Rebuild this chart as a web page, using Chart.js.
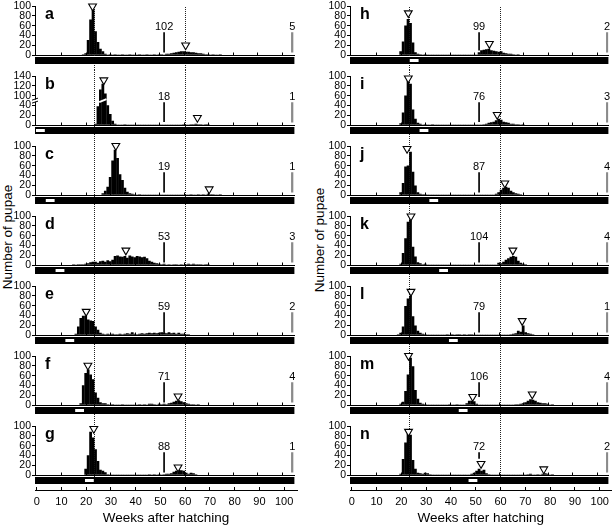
<!DOCTYPE html>
<html>
<head>
<meta charset="utf-8">
<script src="https://cdn.jsdelivr.net/npm/chart.js@4.4.0/dist/chart.umd.min.js"></script>
<style>
body{margin:0;background:#fff}
#fig{position:relative;width:614px;height:527px;overflow:hidden;background:#fff}
canvas{position:absolute}
.ylab{position:absolute;font:13.5px "Liberation Sans",Arial,sans-serif;white-space:nowrap;transform:translate(-50%,-50%) rotate(-90deg)}
</style>
</head>
<body>
<div id="fig">
  <div class="ylab" style="left:7px;top:237px">Number of pupae</div>
  <div class="ylab" style="left:319px;top:240px">Number of pupae</div>
</div>
<script>
// panels a-g on the left, h-n on the right
var letters = ['a','b','c','d','e','f','g','h','i','j','k','l','m','n'];
// first week of each counts array
var firstWeek = [19, 24, 27, 15, 16, 18, 20, 20, 20, 20, 20, 19, 20, 20];

// pupae per week
var countsA = [1,3,30,72,92,48,26,12,7,2, 0,1,0,1,0,0,1,0,0,1, 0,0,0,1,0,0,1,0,0,1, 0,1,1,0,2,2,3,4,5,6, 7,7,6,6,5,5,4,3,3,2, 1,1,0,1,0,0,1];
var countsB = [2,38,112,124,104,40,22,8,2, 0,0,0,1,0,0,0,0,0,0, 0,0,0,0,0,0,0,0,0,0, 0,0,0,0,0,0,0, 1,0,0,1,1,2,1,1,0,1,1];
var countsC = [3,8,16,36,70,92,75,42,30,14,6,3,2,1,0,1, 0,0,0,0,0,0,0,0,0,0,0,0,0,0,0,0,0,0,0,0, 1,0,0,1,0,1,0,2,1,1,0,0,1];
var countsD = [1,0,1,1,1,2,3,5,6,6, 4,7,8,6,9,7,10,18,19,17, 16,18,14,19,17,15,18,17,15,16, 13,8,6,4,3,2,1,2, 0,1,0,1,1,0,1,0,1,2,1,2,1,1,1,0,1,1];
var countsE = [2,17,34,39,39,31,29,28,17,10, 4,2,1,2,1,2,1,1,2,1, 2,3,2,5,2,1,2,3,2,3, 4,3,4,3,4,5,4,3,5,3, 4,2,4,2,2,1,1];
var countsF = [3,40,65,72,62,52,25,14,5,3, 3,1,0,1,0,0,0,1,0,0, 0,0,0,0,1,0,1,0,2,2, 1,0,2,1,2,1,3,4,6,8, 9,7,5,3,2,1,1,0,1];
var countsG = [12,40,88,76,52,28,10,8,5,1, 0,0,0,0,0,0,0,0,0,0, 0,0,0,0,0,0,1,0,1,0, 1,0,1,2,2,3,6,8,10,9, 8,4,2,4,3,1];
var countsH = [7,27,60,73,65,25,5,2,1,0, 1,0,0,0,0,0,0,0,0,0, 0,0,0,0,0,0,0,0,0,0, 0,0,5,9,10,11,12,9,8,7, 6,7,4,3,2,2,1,0,1];
var countsI = [3,25,60,92,84,31,12,4,2,0, 1,0,0,1,0,0,0,0,0,0, 0,0,0,0,0,0,0,0,0,0, 0,0,0,0,1,2,4,5,6,9, 12,10,6,5,4,2,2,1,1,0,1];
var countsJ = [5,24,58,60,88,47,19,5,2,1, 1,0,0,0,0,0,0,0,0,0, 0,0,0,0,0,0,0,0,0,0, 0,0,0,0,0,0,0,0,0,2, 5,10,14,16,14,8,5,3,2,1];
var countsK = [2,24,54,88,93,37,17,5,3,1, 2,0,0,0,0,0,0,0,0,0, 0,0,0,0,0,0,0,0,0,0, 0,0,0,0,0,0,0,0,0,0, 4,3,6,10,13,16,18,16,8,4,2,1];
var countsL = [1,4,17,59,74,80,38,19,8,4, 2,1,0,0,0,0,0,0,0,0, 1,0,1,0,1,1,0,1,0,1, 1,0,0,0,0,0,0,0,0,0, 0,0,0,0,0,0, 1,2,3,8,6,19,5,3,2,1];
var countsM = [2,6,28,62,96,79,30,12,4,2, 1,0,0,0,0,0,0,0,0,0, 1,0,0,1,0,0,0, 3,8,8,7,2, 0,0,0,0,0,0,0,0,0,0,0,0,0,0,0, 1,1,2,3,5,8,11,10,8,5,4,3,3,2,0,1];
var countsN = [2,32,66,84,82,30,12,4,3,2, 4,3,1, 0,0,0,0,0,0,0,0,0,0,0,0,0,0,0,0, 2,4,8,12,8,10,3,1, 0,0,0,0,0,0,0,0,0,0,0,0,0,0,0, 1,2,0,0,1,0,2,3,2,0,1];
var allCounts = [countsA,countsB,countsC,countsD,countsE,countsF,countsG,countsH,countsI,countsJ,countsK,countsL,countsM,countsN];

// open triangles over the peaks
var markerWeeks = [[22.8,60.8],[27.4,65.6],[32.3,70.4],[36.4],[20.2],[20.9,57.7],[23.3,57.7],[23.1,56.2],[23.1,59.4],[22.6,62.5],[24.2,65.8],[24.2,69.6],[23.2,49.4,73.7],[23.2,52.8,78.4]];
var markerHeights = [[100,20],[132,15],[101,12],[30],[48],[81,18],[95,16],[86,23],[96,21],[95,24],[100,30],[89,29],[101,17,22],[89,23,12]];

// numbers written at week 52 and at the end of the axis
var yearOneCount = [102,18,19,53,59,71,88,99,76,87,104,79,106,72];
var yearTwoCount = [5,1,1,3,2,4,1,2,3,4,4,1,4,2];
var yearOneLineLow = [6,7,6,6,5,6,6,10,7,6,6,6,17,34];

// white window in the black strip (week where it starts)
var windowStart = [null,0,4,8,12,16,20,24,28,32,36,40,44,48];

var yTicks = [0,20,40,60,80,100];
var brokenTickLabels = [0,20,40,100,120,140];
var weekTicks = [0,10,20,30,40,50,60,70,80,90,100];
var dottedWeeks = [23.3,60.4];

var FONT = '"Liberation Sans", Arial, sans-serif';
Chart.defaults.font.family = FONT;
Chart.defaults.color = '#000';

var fig = document.getElementById('fig');
var xRange = [[-0.7,105.2],[-0.7,104.8]];

// panel b has a broken axis: 0-40 then 100-140
function brokenPos(c){
    if (c <= 40) return c;
    if (c >= 100) return c - 40;
    return 40 + (c - 40) / 3;
}

function makePanel(p){
    var col = p < 7 ? 0 : 1, row = p % 7;
    var cv = document.createElement('canvas');
    cv.width = col ? 314 : 300;
    cv.height = 70;
    cv.style.left = (col ? 300 : 0) + 'px';
    cv.style.top = (row * 70) + 'px';
    fig.appendChild(cv);

    var toY = p == 1 ? brokenPos : function(c){ return c; };
    var bars = allCounts[p].map(function(c, i){ return {x: firstWeek[p] + i, y: toY(c)}; });
    var marks = markerWeeks[p].map(function(w, i){ return {x: w, y: toY(markerHeights[p][i])}; });

    var decor = {
        id: 'decor' + p,
        beforeDatasetsDraw: function(chart){
            var ctx = chart.ctx, ca = chart.chartArea, x = chart.scales.x;
            var top = row == 0 ? 7 : 0;
            var bottom = row == 6 ? ca.bottom + 9 : cv.height;
            ctx.save();
            ctx.strokeStyle = '#222';
            ctx.lineWidth = 1;
            ctx.setLineDash([1,1]);
            dottedWeeks.forEach(function(w){
                var px = Math.round(x.getPixelForValue(w)) + 0.5;
                ctx.beginPath(); ctx.moveTo(px, top); ctx.lineTo(px, bottom); ctx.stroke();
            });
            ctx.restore();
        },
        afterDraw: function(chart){
            var ctx = chart.ctx, ca = chart.chartArea, x = chart.scales.x, y = chart.scales.y;
            ctx.save();
            ctx.strokeStyle = '#000';
            ctx.lineWidth = 1;
            weekTicks.forEach(function(w){
                if (w == 0) return;
                var px = Math.round(x.getPixelForValue(w)) + 0.5;
                ctx.beginPath(); ctx.moveTo(px, ca.bottom); ctx.lineTo(px, ca.bottom - 2.5); ctx.stroke();
            });
            ctx.fillStyle = '#000';
            ctx.fillRect(ca.left, ca.bottom + 2, ca.right - ca.left, 7);
            if (windowStart[p] !== null){
                var x0 = x.getPixelForValue(windowStart[p] - 0.3), x1 = x.getPixelForValue(windowStart[p] + 3.3);
                ctx.fillStyle = '#fff';
                ctx.fillRect(x0, ca.bottom + 4, x1 - x0, 3);
            }
            ctx.fillStyle = '#000';
            ctx.font = '11px ' + FONT;
            ctx.textAlign = 'center';
            ctx.textBaseline = 'middle';
            ctx.fillText(yearOneCount[p], x.getPixelForValue(52), y.getPixelForValue(58));
            ctx.fillText(yearTwoCount[p], x.getPixelForValue(104.3), y.getPixelForValue(58));
            ctx.font = 'bold 16px ' + FONT;
            ctx.textAlign = 'left';
            ctx.textBaseline = 'alphabetic';
            ctx.fillText(letters[p], ca.left + 10, ca.top + 12.5);
            if (p == 1){
                var yb = y.getPixelForValue(50);
                ctx.strokeStyle = '#fff';
                ctx.lineWidth = 2;
                ctx.beginPath();
                ctx.moveTo(x.getPixelForValue(25.5), yb + 1.5);
                ctx.lineTo(x.getPixelForValue(28.5), yb - 1.5);
                ctx.stroke();
                ctx.fillStyle = '#fff';
                ctx.fillRect(ca.left - 2, yb - 1, 5, 2);
                ctx.strokeStyle = '#000';
                ctx.lineWidth = 1;
                ctx.beginPath();
                ctx.moveTo(ca.left - 3, yb - 0.5); ctx.lineTo(ca.left + 3, yb - 2.5);
                ctx.moveTo(ca.left - 3, yb + 2.5); ctx.lineTo(ca.left + 3, yb + 0.5);
                ctx.stroke();
            }
            ctx.restore();
        }
    };

    new Chart(cv, {
        type: 'bar',
        data: {
            datasets: [
                {type: 'line', data: marks, showLine: false, pointStyle: 'triangle', pointRotation: 180,
                 pointRadius: 4.5, pointBackgroundColor: '#fff', pointBorderColor: '#000', pointBorderWidth: 1.1,
                 clip: false, order: 0},
                {data: bars, backgroundColor: '#000', barThickness: 2.1, grouped: false, order: 1},
                {data: [{x: 52, y: [yearOneLineLow[p], 46]}], backgroundColor: '#000', barThickness: 1, grouped: false, order: 2},
                {data: [{x: 104.3, y: [6, 46]}], backgroundColor: '#8a8a8a', barThickness: 1.6, grouped: false, order: 2}
            ]
        },
        options: {
            responsive: false,
            animation: false,
            devicePixelRatio: 1,
            events: [],
            layout: {padding: {left: 0, right: col ? 2 : 3, top: 6, bottom: 15}},
            plugins: {legend: {display: false}, tooltip: {enabled: false}},
            scales: {
                x: {
                    type: 'linear', min: xRange[col][0], max: xRange[col][1], offset: false,
                    afterFit: function(s){ s.height = 0; },
                    ticks: {display: false},
                    grid: {display: false, offset: false},
                    border: {display: true, color: '#000', width: 1}
                },
                y: {
                    min: 0, max: 100,
                    afterFit: function(s){ s.width = col ? 50 : 35; },
                    afterBuildTicks: function(s){ s.ticks = yTicks.map(function(v){ return {value: v}; }); },
                    ticks: {
                        autoSkip: false, padding: 1, color: '#000',
                        font: {size: 10.5, lineHeight: 1},
                        callback: function(v, i){ return p == 1 ? brokenTickLabels[i] : v; }
                    },
                    grid: {drawOnChartArea: false, drawTicks: true, tickLength: 3, color: '#000'},
                    border: {display: true, color: '#000'}
                }
            }
        },
        plugins: [decor]
    });
}

function makeAxis(col){
    var cv = document.createElement('canvas');
    cv.width = col ? 314 : 300;
    cv.height = 43;
    cv.style.left = (col ? 300 : 0) + 'px';
    cv.style.top = '484px';
    fig.appendChild(cv);
    new Chart(cv, {
        type: 'line',
        data: {datasets: []},
        options: {
            responsive: false,
            animation: false,
            devicePixelRatio: 1,
            events: [],
            layout: {padding: {left: col ? 50 : 35, right: col ? 2 : 3, top: 3, bottom: 0}},
            plugins: {legend: {display: false}, tooltip: {enabled: false}},
            scales: {
                x: {
                    type: 'linear', min: xRange[col][0], max: xRange[col][1],
                    afterBuildTicks: function(s){ s.ticks = weekTicks.map(function(v){ return {value: v}; }); },
                    afterFit: function(s){ s.height = 37; },
                    grid: {drawOnChartArea: true, drawTicks: false, color: '#000'},
                    border: {color: '#000'},
                    ticks: {autoSkip: false, maxRotation: 0, padding: 5, color: '#000', font: {size: 11}},
                    title: {display: true, text: 'Weeks after hatching', color: '#000',
                            font: {size: 13.5}, padding: {top: 0, bottom: 1}}
                },
                y: {display: false, min: 0, max: 1}
            }
        }
    });
}

for (var p = 0; p < 14; p++) makePanel(p);
makeAxis(0);
makeAxis(1);
</script>
</body>
</html>
